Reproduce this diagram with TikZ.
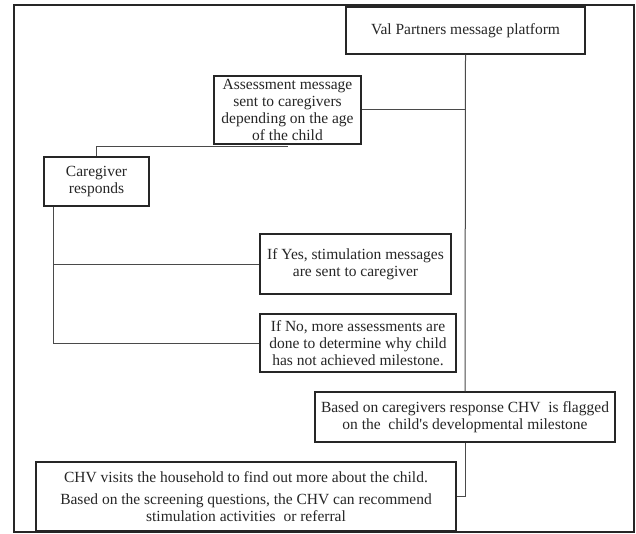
\documentclass[tikz,border=0pt]{standalone}
\usepackage{fontspec}
\setmainfont{Liberation Serif}
\usetikzlibrary{positioning}
\definecolor{ink}{HTML}{262626}
\definecolor{wire}{HTML}{4A4A4A}

\begin{document}
\begin{tikzpicture}[
  x=1pt, y=-1pt,
  font=\fontsize{15.5}{16.7}\selectfont,
  box/.style={draw=ink, line width=1.2pt, fill=white, align=center, text=ink,
              inner sep=1pt},
  link/.style={draw=wire, line width=1pt},
  frame/.style={draw=ink, line width=1.4pt}
]
  \useasboundingbox (0,0) rectangle (636,534);
  \draw[frame] (14,5) rectangle (634,532);

  \node[box, minimum width=239pt, minimum height=47pt] (platform) at (465.5,30.5)
    {Val Partners message platform};
  \node[box, minimum width=147pt, minimum height=68pt] (assess) at (287.5,110)
    {Assessment message\\sent to caregivers\\depending on the age\\of the child};
  \node[box, minimum width=105pt, minimum height=49pt] (caregiver) at (96.5,181.5)
    {Caregiver\\responds};
  \node[box, minimum width=191pt, minimum height=60pt] (yes) at (355.5,264)
    {If Yes, stimulation messages\\are sent to caregiver};
  \node[box, minimum width=196pt, minimum height=58pt] (no) at (358,343)
    {If No, more assessments are\\done to determine why child\\has not achieved milestone.};
  \node[box, minimum width=300pt, minimum height=50pt] (flagged) at (465,417)
    {Based on caregivers response CHV\ \ is flagged\\on the\ \ child\textquotesingle s developmental milestone};
  \node[box, minimum width=420pt, minimum height=69pt] (visit) at (246,496.5)
    {CHV visits the household to find out more about the child.\\[5pt]
     Based on the screening questions, the CHV can recommend\\
     stimulation activities\ \ or referral};

  \coordinate (cgfoot) at ([xshift=10pt]caregiver.south west);

  \draw[link] (platform.south) -- (flagged.north);
  \draw[link] (assess.east) -- (assess.east -| platform.south);
  \draw[link] ([yshift=-2pt]assess.south) -| (caregiver.north);
  \draw[link] (cgfoot) |- (no.west);
  \draw[link] (cgfoot |- yes.west) -- (yes.west);
  \draw[link] (flagged.south) |- (visit.east);
\end{tikzpicture}
\end{document}
